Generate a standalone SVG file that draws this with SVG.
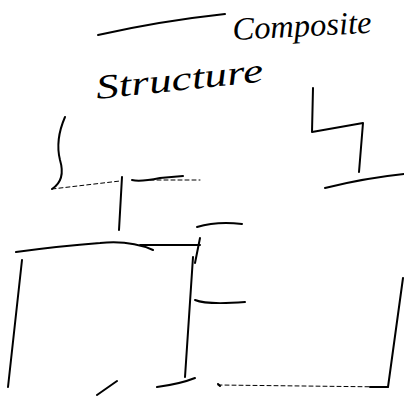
<svg xmlns="http://www.w3.org/2000/svg" width="404" height="396" viewBox="0 0 404 396">
<style>
.s{fill:none;stroke:#000;stroke-width:2;stroke-linecap:round;stroke-linejoin:round}
.f{fill:none;stroke:#000;stroke-width:1;stroke-linecap:round;stroke-dasharray:4 3}
.t{font-family:"Liberation Serif","DejaVu Serif",serif;font-style:italic;fill:#000}
</style>
<rect width="404" height="396" fill="#fff"/>
<text class="t" x="233" y="40" font-size="32" textLength="139" lengthAdjust="spacingAndGlyphs" transform="rotate(-3 233 40)">Composite</text>
<text class="t" x="97" y="99" font-size="34" textLength="168" lengthAdjust="spacingAndGlyphs" transform="rotate(-6 97 99)">Structure</text>
<path class="s" stroke-width="1.5" d="M98 35 Q160 21 225 14"/>
<path class="s" d="M313 88 L312 132 L363 123 L359 172"/>
<path class="s" d="M325 188 Q365 178 404 174"/>
<path class="s" d="M65 117 Q55 140 60 160 Q66 180 52 189"/>
<path class="f" d="M52 189 L120 181"/>
<path class="s" d="M122 177 L119 230"/>
<path class="s" d="M132 180 Q140 182 160 178 L183 176"/>
<path class="f" d="M150 180 L200 180"/>
<path class="s" d="M197 227 Q217 221 242 224"/>
<path class="s" d="M16 252 Q60 246 100 243 Q130 240 153 250 M140 245 L200 245"/>
<path class="s" d="M200 238 L195 263"/>
<path class="s" d="M193 257 L185 377"/>
<path class="s" d="M22 260 L8 387"/>
<path class="s" d="M195 300 Q207 305 245 302"/>
<path class="s" d="M97 395 L117 381"/>
<path class="s" d="M157 387 Q180 384 195 378"/>
<path class="f" d="M218 385 L388 387"/>
<path class="s" d="M218 384 L220 386 M370 387 L388 387 L403 278"/>
</svg>
